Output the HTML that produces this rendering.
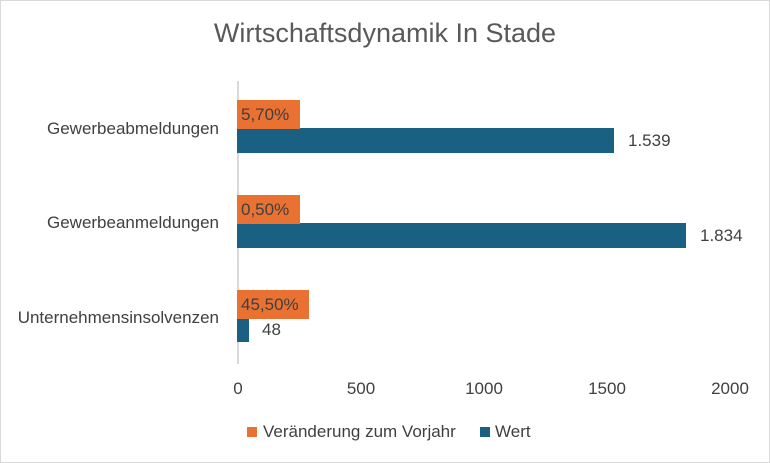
<!DOCTYPE html>
<html><head><style>
body{margin:0;background:#fff;}
.c{position:relative;width:768px;height:461px;border:1px solid #d9d9d9;font-family:"Liberation Sans",sans-serif;color:#404040;overflow:hidden;}
.a{position:absolute;white-space:nowrap;}
.t{top:17px;left:0;width:768px;text-align:center;font-size:27px;color:#595959;}
.cat{font-size:17px;color:#404040;right:550px;text-align:right;}
.b{position:absolute;background:#196083;left:236px;}
.o{position:absolute;background:#e97132;left:236px;font-size:17px;color:#404040;padding-left:4px;box-sizing:border-box;line-height:29px;height:29px;}
.v{font-size:17px;}
.x{font-size:17px;top:378px;transform:translateX(-50%);}
</style></head><body><div class="c">
<div class="a t">Wirtschaftsdynamik In Stade</div>
<div class="a" style="left:236px;top:80px;width:2px;height:283px;background:#d9d9d9"></div>
<div class="a cat" style="top:118px">Gewerbeabmeldungen</div>
<div class="a cat" style="top:212px">Gewerbeanmeldungen</div>
<div class="a cat" style="top:307px">Unternehmensinsolvenzen</div>
<div class="b" style="top:127px;width:377px;height:25px"></div>
<div class="b" style="top:222px;width:449px;height:25px"></div>
<div class="b" style="top:318px;width:12px;height:23px"></div>
<div class="o" style="top:99px;width:63px">5,70%</div>
<div class="o" style="top:194px;width:63px">0,50%</div>
<div class="o" style="top:289px;width:72px">45,50%</div>
<div class="a v" style="left:627px;top:130px">1.539</div>
<div class="a v" style="left:699px;top:225px">1.834</div>
<div class="a v" style="left:261px;top:319px">48</div>
<div class="a x" style="left:237px">0</div>
<div class="a x" style="left:360px">500</div>
<div class="a x" style="left:483px">1000</div>
<div class="a x" style="left:606px">1500</div>
<div class="a x" style="left:729px">2000</div>
<div class="a" style="left:246px;top:426px;width:10px;height:10px;background:#e97132"></div>
<div class="a" style="left:262px;top:421px;font-size:17px">Veränderung zum Vorjahr</div>
<div class="a" style="left:479px;top:426px;width:10px;height:10px;background:#196083"></div>
<div class="a" style="left:494px;top:421px;font-size:17px">Wert</div>
</div></body></html>
